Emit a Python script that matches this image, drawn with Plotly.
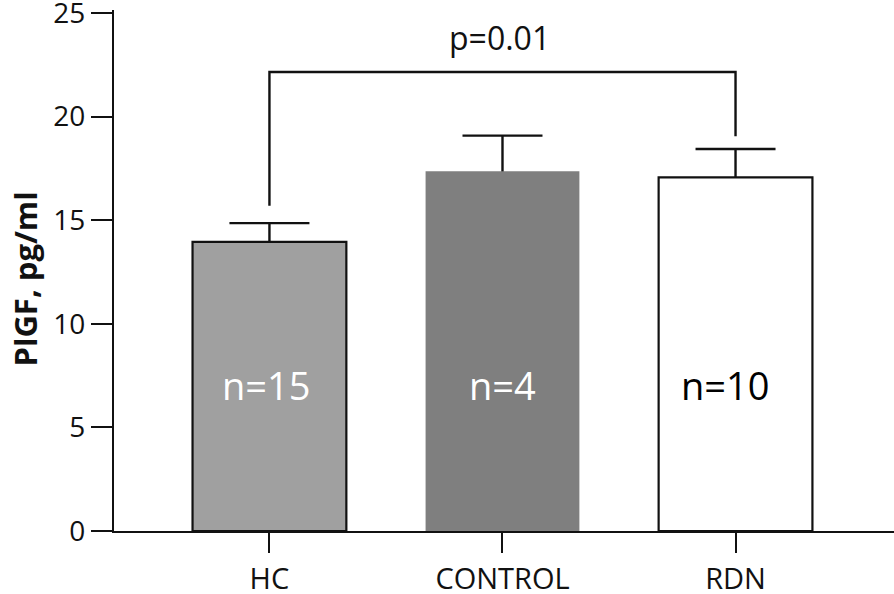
import plotly.graph_objects as go

categories = ["HC", "CONTROL", "RDN"]
means = [13.95, 17.36, 17.07]
sem_upper = [0.91, 1.72, 1.37]
bar_fills = ["#a0a0a0", "#7f7f7f", "#ffffff"]
bar_outline_widths = [2.2, 0, 2.2]
n_labels = ["n=15", "n=4", "n=10"]
n_label_colors = ["#ffffff", "#ffffff", "#000000"]
n_label_y = 7.05
y_ticks = [0, 5, 10, 15, 20, 25]
bracket_x = [0, 0, 2, 2]
bracket_y = [15.7, 22.15, 22.15, 19.05]
p_text = "p=0.01"
p_y = 23.8

FONT = "Open Sans"

fig = go.Figure()

# transparent carrier for error bars (drawn beneath visible bars)
fig.add_trace(go.Bar(
    x=list(range(len(categories))), y=means,
    marker=dict(color="rgba(0,0,0,0)", line=dict(width=0)),
    width=0.66,
    error_y=dict(type="data", array=sem_upper, symmetric=True,
                 color="#111111", thickness=2.4, width=40),
    showlegend=False, hoverinfo="skip",
))

fig.add_trace(go.Bar(
    x=list(range(len(categories))), y=means,
    marker=dict(color=bar_fills,
                line=dict(color="#111111", width=bar_outline_widths)),
    width=0.66,
    showlegend=False,
))

fig.add_trace(go.Scatter(
    x=bracket_x, y=bracket_y, mode="lines",
    line=dict(color="#111111", width=2.4),
    showlegend=False, hoverinfo="skip",
))

annotations = []
shifts = [-3, 0, -10]
for i, (t, c) in enumerate(zip(n_labels, n_label_colors)):
    annotations.append(dict(
        x=i, y=n_label_y, xref="x", yref="y", text=t, showarrow=False,
        xshift=shifts[i],
        font=dict(family=FONT, size=38, color=c),
    ))
annotations.append(dict(
    x=(bracket_x[0] + bracket_x[-1]) / 2, y=p_y, xref="x", yref="y",
    text=p_text, showarrow=False, xshift=-3,
    font=dict(family=FONT, size=32, color="#111111"),
))
annotations.append(dict(
    x=0, y=0.5, xref="paper", yref="paper", text="<b>PlGF, pg/ml</b>",
    showarrow=False, textangle=-90, xanchor="center", yanchor="middle",
    xshift=-90, yshift=-9,
    font=dict(family=FONT, size=31, color="#111111"),
))

fig.update_layout(
    width=894, height=594,
    margin=dict(l=114, r=0, t=10, b=63, autoexpand=False),
    paper_bgcolor="white", plot_bgcolor="white",
    barmode="overlay",
    annotations=annotations,
    font=dict(family=FONT, color="#111111"),
)

fig.update_xaxes(
    range=[-0.667, 2.68], automargin=False,
    tickmode="array", tickvals=list(range(len(categories))), ticktext=categories,
    ticks="outside", ticklen=20, tickwidth=2.2, tickcolor="#111111",
    ticklabelstandoff=1, ticklabeloverflow="allow",
    showline=True, linecolor="#111111", linewidth=2.2,
    showgrid=False, zeroline=False,
    tickfont=dict(family=FONT, size=29, color="#111111"),
)
fig.update_yaxes(
    range=[0, 25.145], automargin=False,
    tickmode="array", tickvals=y_ticks,
    ticks="outside", ticklen=21, tickwidth=2.2, tickcolor="#111111",
    ticklabeloverflow="allow",
    showline=True, linecolor="#111111", linewidth=2.2,
    showgrid=False, zeroline=False,
    tickfont=dict(family=FONT, size=28, color="#111111"),
)

fig.write_html("out.html", config={"displayModeBar": False},
               post_script="document.body.style.margin='0';")
